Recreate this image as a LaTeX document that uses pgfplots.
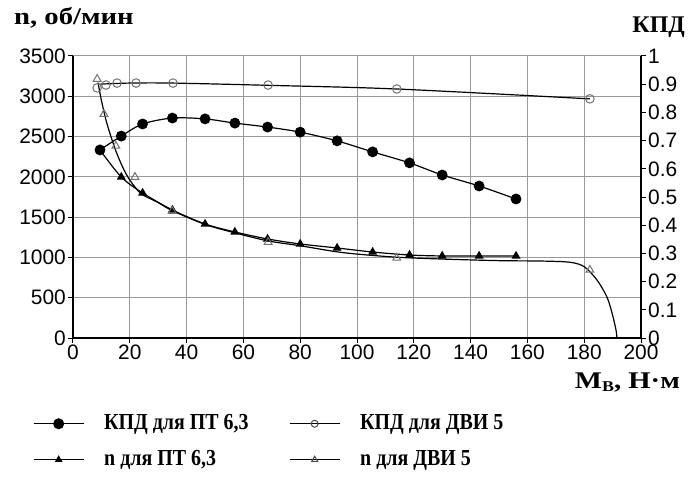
\documentclass[border=0pt]{standalone}
\usepackage{pgfplots}
\pgfplotsset{compat=1.18}
\usepackage{fontspec}
\setmainfont{Liberation Serif}
\newfontfamily\sansf{Liberation Sans}
\begin{document}
\begin{tikzpicture}
\useasboundingbox (-73bp,-157bp) rectangle (615bp,338bp);
\pgfplotsset{
  base/.style={width=568bp,height=282bp,scale only axis,xmin=0,xmax=200,
   tick align=outside, major tick length=5bp,
   ticklabel style={font=\sansf\fontsize{21}{21}\selectfont},
   yticklabel style={inner sep=2bp},
   xticklabel style={inner sep=2bp},
   /pgf/number format/assume math mode=true,
   /pgf/number format/1000 sep={},
   axis line style={line width=1.2bp,black},
   every tick/.style={black,line width=1bp},
   clip=false,
  }
}
\begin{axis}[base, axis x line*=bottom, axis y line*=left,
  ymin=0,ymax=3500, ytick={0,500,1000,1500,2000,2500,3000,3500},
  xtick={0,20,40,60,80,100,120,140,160,180,200},
  grid=major, major grid style={black!40,line width=1bp}]
% n for PT 6,3
\addplot[black,line width=1.2bp,smooth,tension=0.5,mark=triangle*,mark size=4bp,forget plot] coordinates {
(9.5,2333) (17,1998) (24.5,1800) (35,1589) (46.5,1415) (57,1316) (68.5,1229) (80,1167) (93,1117) (105.5,1067) (118.5,1030) (130,1018) (143,1018) (156,1018)};
% n for DVI 5 : curve
\addplot[black,line width=1.2bp,smooth,tension=0.5,forget plot] coordinates {
(8.8,3170) (10,2950) (11.5,2720) (13,2540) (15,2330) (17.5,2120) (20,1960) (24,1790) (29.5,1690) (35,1580) (46.5,1410) (57,1305) (68.7,1205) (80,1145) (95,1060) (113,1005) (130,980) (150,960) (165,955) (175,940) (180,885) (184.5,720) (188,509) (189.8,310) (191.2,100) (191.5,0)};
% n for DVI 5 : markers
\addplot[only marks,mark=triangle,mark size=4.5bp,mark options={draw=black!55,fill=white,line width=1bp},forget plot] coordinates {
(8.5,3214) (10.9,2780) (15.1,2383) (21.8,1998) (34.9,1576) (68.7,1191) (114,993) (182,844)};
\end{axis}
\begin{axis}[base, axis x line=none, axis y line*=right,
  ymin=0,ymax=1, ytick={0,0.1,0.2,0.3,0.4,0.5,0.6,0.7,0.8,0.9,1},
  yticklabels={0,0.1,0.2,0.3,0.4,0.5,0.6,0.7,0.8,0.9,1},
  legend columns=2,
  legend image code/.code={\draw[mark repeat=2,mark phase=2] plot coordinates {(0bp,0bp)(25bp,0bp)(50bp,0bp)};},
  legend style={at={(axis description cs:-0.0757,-0.259)},anchor=north west,draw=none,fill=none,
    font=\bfseries\fontsize{23}{23}\selectfont,
    nodes={inner sep=0pt,text height=16bp,text depth=5bp,anchor=west},
    row sep=15bp,
    /tikz/column 1/.style={column sep=20bp},
    /tikz/column 3/.style={column sep=20bp}}]
% KPD for DVI 5
\addplot[black,line width=1.2bp,smooth,tension=0.5,forget plot] coordinates {
(9,0.900) (20,0.904) (35,0.904) (68.7,0.896) (114,0.883) (182,0.848)};
\addplot[only marks,mark=o,mark size=4.3bp,mark options={draw=black!55,fill=white,line width=1bp},forget plot] coordinates {
(8.5,0.887) (11.6,0.897) (15.5,0.904) (22.2,0.904) (35.2,0.904) (68.7,0.897) (114,0.883) (182,0.848)};
% KPD for PT 6,3
\addplot[black,line width=1.2bp,smooth,tension=0.5,mark=*,mark size=4.8bp,forget plot] coordinates {
(9.5,0.667) (17,0.716) (24.5,0.759) (35,0.780) (46.5,0.777) (57,0.762) (68.5,0.748) (80,0.730) (93,0.699) (105.5,0.660) (118.5,0.621) (130,0.578) (143,0.539) (156,0.493)};
\addlegendimage{black,line width=1bp,mark=*,mark size=5bp}
\addlegendentry{\makebox[185bp][l]{\scalebox{0.87}[1]{КПД для ПТ 6,3}}}
\addlegendimage{black,line width=1bp,mark=o,mark size=3.5bp,mark options={draw=black!70}}
\addlegendentry{\scalebox{0.87}[1]{КПД для ДВИ 5}}
\addlegendimage{black,line width=1bp,mark=triangle*,mark size=3.5bp}
\addlegendentry{\makebox[185bp][l]{\scalebox{0.87}[1]{n для ПТ 6,3}}}
\addlegendimage{black,line width=1bp,mark=triangle,mark size=3.5bp,mark options={draw=black!70}}
\addlegendentry{\scalebox{0.87}[1]{n для ДВИ 5}}
\end{axis}
\node[anchor=base west,font=\bfseries\fontsize{24}{24}\selectfont,inner sep=0pt] at (-59bp,313bp) {\scalebox{1.2}[1]{n, об/мин}};
\node[anchor=base east,font=\bfseries\fontsize{24}{24}\selectfont,inner sep=0pt] at (612bp,305bp) {КПД};
\node[anchor=base east,font=\bfseries\fontsize{24}{24}\selectfont,inner sep=0pt] at (607bp,-50bp) {\scalebox{1.2}[1]{М\raisebox{-0.3ex}{\fontsize{15}{15}\selectfont В}, Н\textperiodcentered м}};
\end{tikzpicture}
\end{document}
